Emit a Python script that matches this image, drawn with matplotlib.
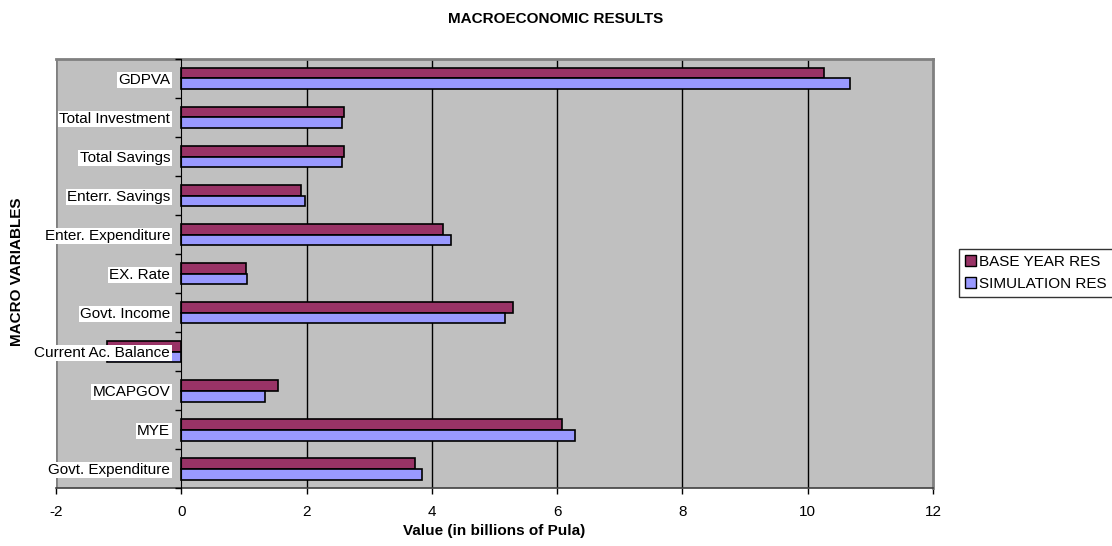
import numpy as np
import matplotlib
matplotlib.use('Agg')
import matplotlib.pyplot as plt
from matplotlib.patches import Patch

plt.rcParams['font.family'] = ['Liberation Sans', 'DejaVu Sans']

# categories from top to bottom
categories = ['GDPVA', 'Total Investment', 'Total Savings', 'Enterr. Savings',
              'Enter. Expenditure', 'EX. Rate', 'Govt. Income', 'Current Ac. Balance',
              'MCAPGOV', 'MYE', 'Govt. Expenditure']
base_year = [10.26, 2.60, 2.60, 1.91, 4.17, 1.03, 5.30, -1.18, 1.55, 6.07, 3.73]
simulation = [10.68, 2.57, 2.57, 1.98, 4.31, 1.05, 5.17, -1.18, 1.33, 6.28, 3.84]
x_ticks = [-2, 0, 2, 4, 6, 8, 10, 12]

fig = plt.figure(figsize=(11.12, 5.46), dpi=100)
ax = fig.add_axes([0.0504, 0.106, 0.7886, 0.786])
ax.set_facecolor('#C0C0C0')

n = len(categories)
y = np.arange(n)[::-1]
h = 0.28
ax.barh(y + h / 2, base_year, height=h, color='#993366', edgecolor='black',
        linewidth=1.2, zorder=3, label='BASE YEAR RES')
ax.barh(y - h / 2, simulation, height=h, color='#9999FF', edgecolor='black',
        linewidth=1.2, zorder=3, label='SIMULATION RES')

ax.set_xlim(-2, 12)
ax.set_ylim(-0.5, n - 0.5)
ax.set_xticks(x_ticks)
ax.set_xticklabels([str(v) for v in x_ticks], fontsize=11)
for v in x_ticks[2:-1]:
    ax.axvline(v, color='black', linewidth=1, zorder=1)

# y axis sits on zero
ax.spines['left'].set_position(('data', 0))
ax.spines['left'].set_color('black')
ax.spines['left'].set_zorder(4)
ax.axvline(-2, color='#808080', linewidth=2, zorder=2)
for s in ['top', 'right']:
    ax.spines[s].set_color('#808080')
    ax.spines[s].set_linewidth(2)
ax.spines['bottom'].set_color('#404040')
ax.spines['bottom'].set_linewidth(1.2)

ax.set_yticks(y)
ax.set_yticklabels(categories, fontsize=11)
ax.set_yticks(np.arange(n + 1) - 0.5, minor=True)
ax.tick_params(axis='y', which='major', length=0, pad=8)
ax.tick_params(axis='y', which='minor', length=4, width=1, direction='out')
ax.tick_params(axis='x', length=4, width=1, direction='out', pad=8)
ax.yaxis.set_zorder(5)
for lbl in ax.get_yticklabels():
    lbl.set_bbox(dict(facecolor='white', edgecolor='none', pad=1))

fig.text(0.5, 1 - 19 / 546, 'MACROECONOMIC RESULTS', ha='center', va='center',
         fontsize=11, fontweight='bold')
fig.text(0.0504 + 0.7886 / 2, 1 - 531 / 546, 'Value (in billions of Pula)',
         ha='center', va='center', fontsize=11, fontweight='bold')
fig.text(17 / 1112, 1 - 272 / 546, 'MACRO VARIABLES', rotation=90, ha='center',
         va='center', fontsize=11, fontweight='bold')

handles = [Patch(facecolor='#993366', edgecolor='black'),
           Patch(facecolor='#9999FF', edgecolor='black')]
leg = fig.legend(handles, ['BASE YEAR RES', 'SIMULATION RES'], loc='upper left',
                 bbox_to_anchor=(959 / 1112, 1 - 249 / 546), fontsize=11,
                 frameon=True, fancybox=False, edgecolor='black',
                 handlelength=0.7, handleheight=0.7, handletextpad=0.2,
                 borderpad=0.4, labelspacing=0.5, borderaxespad=0)
leg.get_frame().set_linewidth(1)

fig.savefig('out.png', dpi=100)
